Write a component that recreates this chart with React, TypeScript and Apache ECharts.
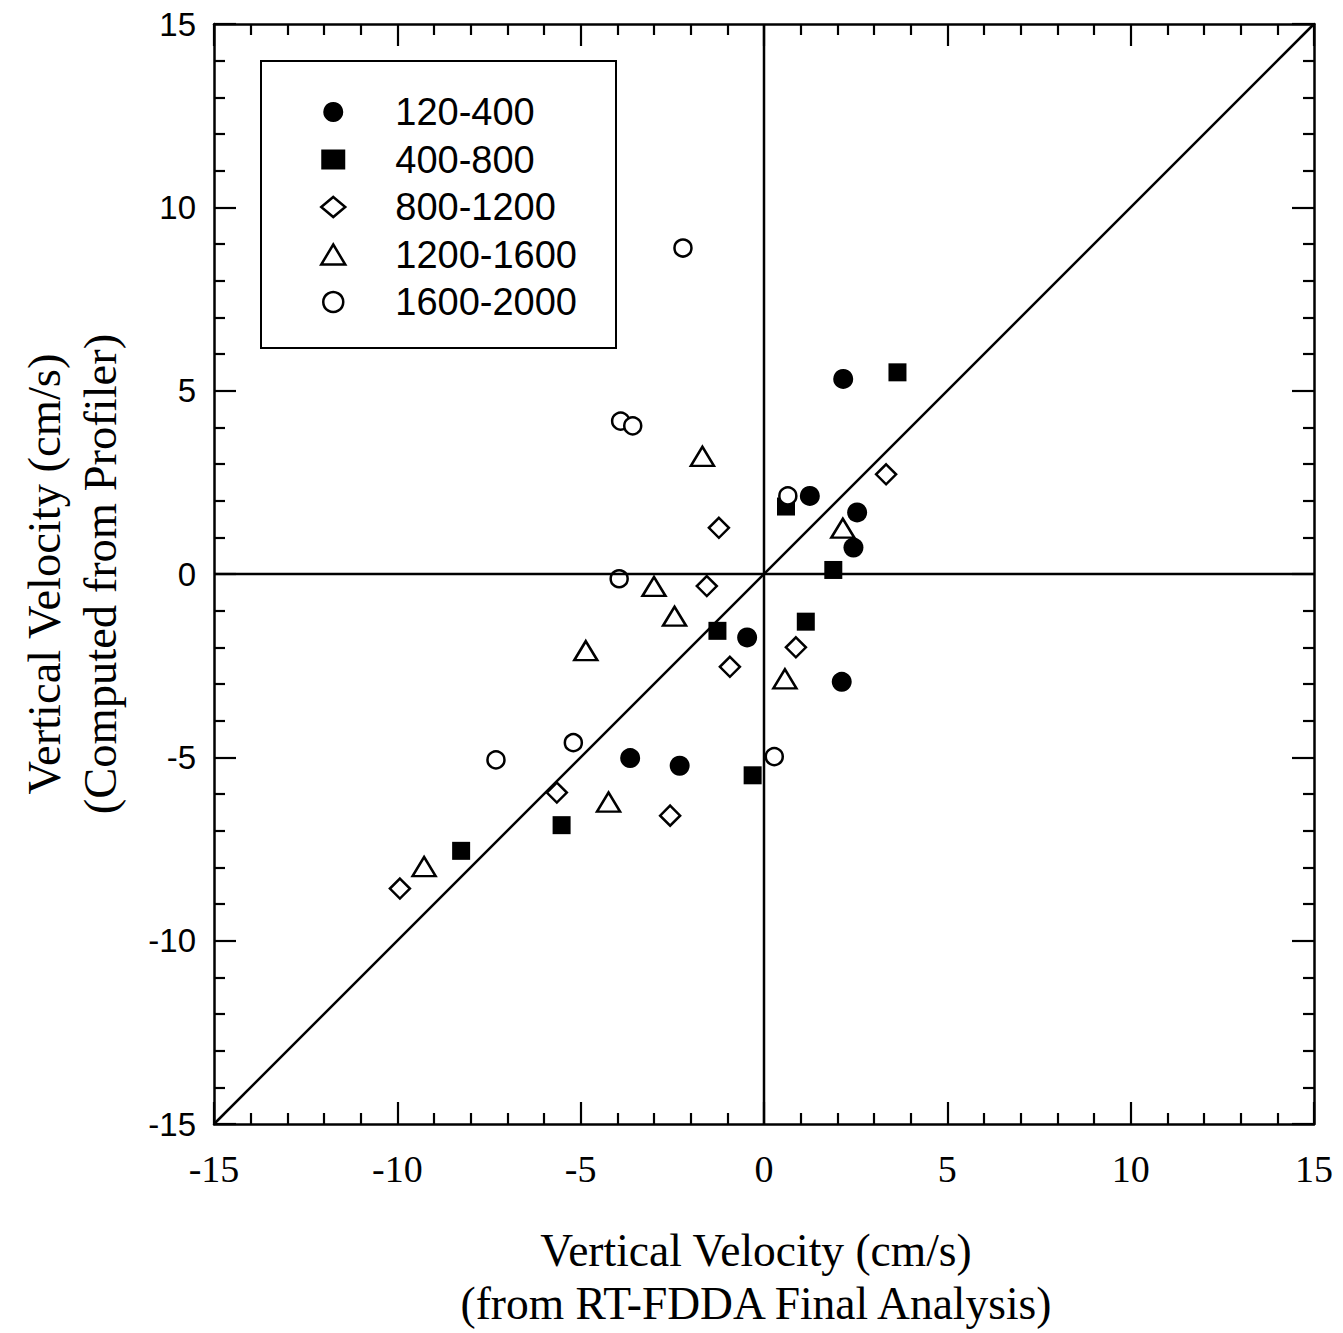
import React, { useEffect, useRef } from "react";
import * as echarts from "echarts";

// Data (cm/s): [RT-FDDA, Profiler]
const layer120_400: [number, number][] = [
  [2.16, 5.32], [1.25, 2.13], [2.54, 1.68], [2.44, 0.72],
  [-0.46, -1.73], [2.12, -2.94], [-3.65, -5.02], [-2.3, -5.23],
];
const layer400_800: [number, number][] = [
  [3.64, 5.5], [0.6, 1.84], [1.89, 0.11], [1.14, -1.3],
  [-1.27, -1.55], [-0.31, -5.49], [-5.52, -6.85], [-8.26, -7.55],
];
const layer800_1200: [number, number][] = [
  [3.33, 2.72], [-1.23, 1.26], [-1.56, -0.33], [0.87, -2.0],
  [-0.93, -2.53], [-5.65, -5.96], [-2.56, -6.59], [-9.93, -8.58],
];
const layer1200_1600: [number, number][] = [
  [-1.68, 3.21], [2.15, 1.25], [-3.0, -0.34], [-2.44, -1.15],
  [-4.86, -2.09], [0.57, -2.86], [-4.24, -6.22], [-9.27, -7.98],
];
const layer1600_2000: [number, number][] = [
  [-2.21, 8.89], [-3.91, 4.17], [-3.58, 4.04], [0.65, 2.13],
  [-3.95, -0.13], [-5.2, -4.6], [-7.31, -5.07], [0.28, -4.98],
];

const seriesNames = ["120-400", "400-800", "800-1200", "1200-1600", "1600-2000"];
const axisMin = -15;
const axisMax = 15;
const axisInterval = 5;
const diagonalLine: [number, number][] = [[-15, -15], [15, 15]];
const zeroVertical: [number, number][] = [[0, -15], [0, 15]];
const zeroHorizontal: [number, number][] = [[-15, 0], [15, 0]];

const xTitle = "Vertical Velocity (cm/s)\n(from RT-FDDA Final Analysis)";
const yTitle = "Vertical Velocity (cm/s)\n(Computed from Profiler)";

export default function App() {
  const ref = useRef<HTMLDivElement>(null);
  useEffect(() => {
    if (!ref.current) return;
    const chart = echarts.init(ref.current, undefined, { renderer: "svg" });
    const black = "#000";
    const serif = "Liberation Serif";
    const sans = "Liberation Sans";

    const baseAxis = (showLabel: boolean, labelFont: string, labelSize: number, margin: number) => ({
      type: "value" as const,
      min: axisMin,
      max: axisMax,
      interval: axisInterval,
      axisLine: { show: true, onZero: false, lineStyle: { color: black, width: 2.5 } },
      axisTick: { show: true, inside: true, length: 22, lineStyle: { color: black, width: 2.2 } },
      minorTick: { show: true, splitNumber: 5, length: 11, lineStyle: { color: black, width: 2.2 } },
      splitLine: { show: false },
      minorSplitLine: { show: false },
      axisLabel: {
        show: showLabel,
        color: black,
        fontFamily: labelFont,
        fontSize: labelSize,
        margin,
        showMinLabel: true,
        showMaxLabel: true,
      },
    });

    const refSeries = (data: [number, number][]) => ({
      type: "line" as const,
      data,
      symbol: "none",
      silent: true,
      lineStyle: { color: black, width: 2.5, opacity: 1 },
      xAxisIndex: 0,
      yAxisIndex: 0,
    });

    const openStyle = { color: "#fff", borderColor: black, borderWidth: 2.5, opacity: 1 };
    const fillStyle = { color: black, borderWidth: 0, opacity: 1 };

    chart.setOption({
      animation: false,
      backgroundColor: "#fff",
      grid: {
        left: 214,
        top: 24,
        width: 1100,
        height: 1100,
        containLabel: false,
        outerBoundsMode: "none",
      },
      xAxis: [
        {
          ...baseAxis(true, serif, 38, 26),
          position: "bottom",
          name: xTitle,
          nameLocation: "middle",
          nameGap: 100,
          nameTextStyle: {
            fontFamily: serif,
            fontSize: 45.5,
            lineHeight: 53,
            color: black,
            padding: [0, 16, 0, 0],
          },
        },
        { ...baseAxis(false, serif, 38, 26), position: "top" },
      ],
      yAxis: [
        {
          ...baseAxis(true, sans, 33, 18),
          position: "left",
          name: yTitle,
          nameLocation: "middle",
          nameGap: 86,
          nameRotate: 90,
          nameTextStyle: { fontFamily: serif, fontSize: 46.5, lineHeight: 56, color: black },
        },
        { ...baseAxis(false, sans, 33, 18), position: "right" },
      ],
      legend: {
        orient: "vertical",
        left: 320,
        top: 93,
        itemWidth: 24,
        itemHeight: 20,
        itemGap: 9.5,
        padding: 0,
        selectedMode: false,
        textStyle: {
          fontFamily: sans,
          fontSize: 38,
          color: black,
          padding: [0, 0, 0, 45],
        },
        data: [
          { name: seriesNames[0], icon: "circle", itemStyle: fillStyle },
          { name: seriesNames[1], icon: "rect", itemStyle: fillStyle },
          { name: seriesNames[2], icon: "diamond", itemStyle: openStyle },
          { name: seriesNames[3], icon: "triangle", itemStyle: openStyle },
          { name: seriesNames[4], icon: "circle", itemStyle: openStyle },
        ],
      },
      graphic: [
        {
          type: "rect",
          shape: { x: 261, y: 61, width: 355, height: 287 },
          style: { fill: "none", stroke: black, lineWidth: 2 },
          z: 0,
          silent: true,
        },
      ],
      series: [
        refSeries(zeroVertical),
        refSeries(zeroHorizontal),
        refSeries(diagonalLine),
        {
          name: seriesNames[0],
          type: "scatter",
          data: layer120_400,
          symbol: "circle",
          symbolSize: 20,
          itemStyle: fillStyle,
        },
        {
          name: seriesNames[1],
          type: "scatter",
          data: layer400_800,
          symbol: "rect",
          symbolSize: 18,
          itemStyle: fillStyle,
        },
        {
          name: seriesNames[2],
          type: "scatter",
          data: layer800_1200,
          symbol: "diamond",
          symbolSize: 20,
          itemStyle: openStyle,
        },
        {
          name: seriesNames[3],
          type: "scatter",
          data: layer1200_1600,
          symbol: "triangle",
          symbolSize: [23, 19],
          itemStyle: openStyle,
        },
        {
          name: seriesNames[4],
          type: "scatter",
          data: layer1600_2000,
          symbol: "circle",
          symbolSize: 17,
          itemStyle: openStyle,
        },
      ],
    });
    return () => chart.dispose();
  }, []);

  return (
    <div
      ref={ref}
      style={{ position: "absolute", left: 0, top: 0, width: 1343, height: 1333 }}
    />
  );
}
